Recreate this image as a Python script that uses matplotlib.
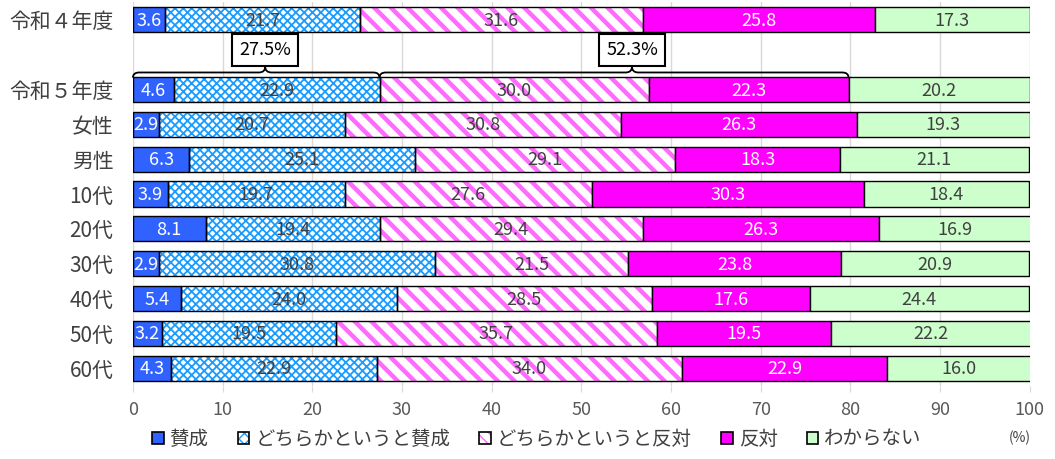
import numpy as np
import matplotlib
matplotlib.use("Agg")
import matplotlib.pyplot as plt
from matplotlib.path import Path
from matplotlib.patches import PathPatch, Patch
from matplotlib.legend_handler import HandlerTuple

plt.rcParams['font.family'] = ['Noto Sans CJK JP', 'DejaVu Sans']

categories = ["令和４年度", "令和５年度", "女性", "男性", "10代", "20代", "30代", "40代", "50代", "60代"]
sansei = [3.6, 4.6, 2.9, 6.3, 3.9, 8.1, 2.9, 5.4, 3.2, 4.3]
yaya_sansei = [21.7, 22.9, 20.7, 25.1, 19.7, 19.4, 30.8, 24.0, 19.5, 22.9]
yaya_hantai = [31.6, 30.0, 30.8, 29.1, 27.6, 29.4, 21.5, 28.5, 35.7, 34.0]
hantai = [25.8, 22.3, 26.3, 18.3, 30.3, 26.3, 23.8, 17.6, 19.5, 22.9]
wakaranai = [17.3, 20.2, 19.3, 21.1, 18.4, 16.9, 20.9, 24.4, 22.2, 16.0]
series_names = ["賛成", "どちらかというと賛成", "どちらかというと反対", "反対", "わからない"]
bracket_vals = [27.5, 52.3]

# row positions: one empty slot after 令和４年度
ypos = np.array([0, 2, 3, 4, 5, 6, 7, 8, 9, 10])

fig = plt.figure(figsize=(10.55, 4.59), dpi=100)
ax = fig.add_axes([0.126, 0.16, 0.85, 0.8346])

styles = [
    dict(color="#2F62FF", hatch=None, hcol=None, hlw=1.0, tcol="white"),
    dict(color="white", hatch="xxxx", hcol="#1A9BFF", hlw=1.3, tcol="#404040"),
    dict(color="white", hatch="\\\\", hcol="#FF6BFF", hlw=3.2, tcol="#404040"),
    dict(color="#FF00FF", hatch=None, hcol=None, hlw=1.0, tcol="white"),
    dict(color="#CCFFCC", hatch=None, hcol=None, hlw=1.0, tcol="#404040"),
]
data = [sansei, yaya_sansei, yaya_hantai, hantai, wakaranai]
h = 0.72
left = np.zeros(len(categories))
handles = []
for vals, st, name in zip(data, styles, series_names):
    vals = np.array(vals)
    if st["hatch"]:
        with plt.rc_context({"hatch.linewidth": st["hlw"], "hatch.color": st["hcol"]}):
            ax.barh(ypos, vals, left=left, height=h, color="white",
                    edgecolor=st["hcol"], hatch=st["hatch"], linewidth=0, zorder=2)
        ax.barh(ypos, vals, left=left, height=h, color="none",
                edgecolor="black", linewidth=1.0, zorder=3)
        with plt.rc_context({"hatch.linewidth": st["hlw"] * 0.6}):
            hp = Patch(facecolor="white", edgecolor=st["hcol"], hatch=st["hatch"][:1] * 3, linewidth=0)
        handles.append((hp, Patch(facecolor="none", edgecolor="black", linewidth=1.2)))
    else:
        ax.barh(ypos, vals, left=left, height=h, color=st["color"],
                edgecolor="black", linewidth=1.0, zorder=3)
        handles.append(Patch(facecolor=st["color"], edgecolor="black", linewidth=1.2))
    for y, l, v in zip(ypos, left, vals):
        ax.text(l + v / 2, y + 0.03, f"{v:.1f}", ha="center", va="center",
                color=st["tcol"], fontsize=13, zorder=5)
    left = left + vals

ax.set_xlim(0, 100)
ax.set_ylim(10.5, -0.5)
ax.set_xticks(np.arange(0, 101, 10))
ax.set_yticks(ypos)
ax.set_yticklabels(categories, fontsize=15, color="#404040")
ax.tick_params(axis="x", labelsize=13, colors="#595959", length=4, color="#D9D9D9", pad=7)
ax.tick_params(axis="y", length=0, pad=14)
ax.xaxis.grid(True, color="#D9D9D9", linewidth=1.0, zorder=0)
ax.set_axisbelow(True)
for s in ax.spines.values():
    s.set_visible(False)


def brace(x0, x1, xm, y_base=1.51, y_tip=1.34, y_end=1.66):
    r = 0.7
    verts = [(x0, y_end), (x0, y_base), (x0 + r, y_base),
             (xm - r, y_base), (xm, y_base), (xm, y_tip),
             (xm, y_base), (xm + r, y_base),
             (x1 - r, y_base), (x1, y_base), (x1, y_end)]
    codes = [Path.MOVETO, Path.CURVE3, Path.CURVE3,
             Path.LINETO, Path.CURVE3, Path.CURVE3,
             Path.CURVE3, Path.CURVE3,
             Path.LINETO, Path.CURVE3, Path.CURVE3]
    ax.add_patch(PathPatch(Path(verts, codes), facecolor="none", edgecolor="black",
                           linewidth=1.3, zorder=6, clip_on=False))


tip_shift = [1.0, 2.0]
x_start = 0
for bv, sh in zip(bracket_vals, tip_shift):
    xm = x_start + bv / 2 + sh
    brace(x_start, x_start + bv, xm)
    ax.text(xm, 0.87, f"{bv}%", ha="center", va="center", fontsize=13, color="black",
            bbox=dict(boxstyle="square,pad=0.4", facecolor="white", edgecolor="black", linewidth=1.5),
            zorder=7)
    x_start += bv

fig.legend(handles, series_names, loc="center", bbox_to_anchor=(0.509, 0.043), ncol=5,
           frameon=False, fontsize=14, handlelength=0.6, handleheight=0.6,
           handletextpad=0.3, columnspacing=1.5, labelcolor="#404040",
           handler_map={tuple: HandlerTuple(ndivide=1, pad=0)})
fig.text(0.967, 0.045, "(%)", fontsize=10, color="#404040", ha="center", va="center")

fig.savefig("out.png", dpi=100)
